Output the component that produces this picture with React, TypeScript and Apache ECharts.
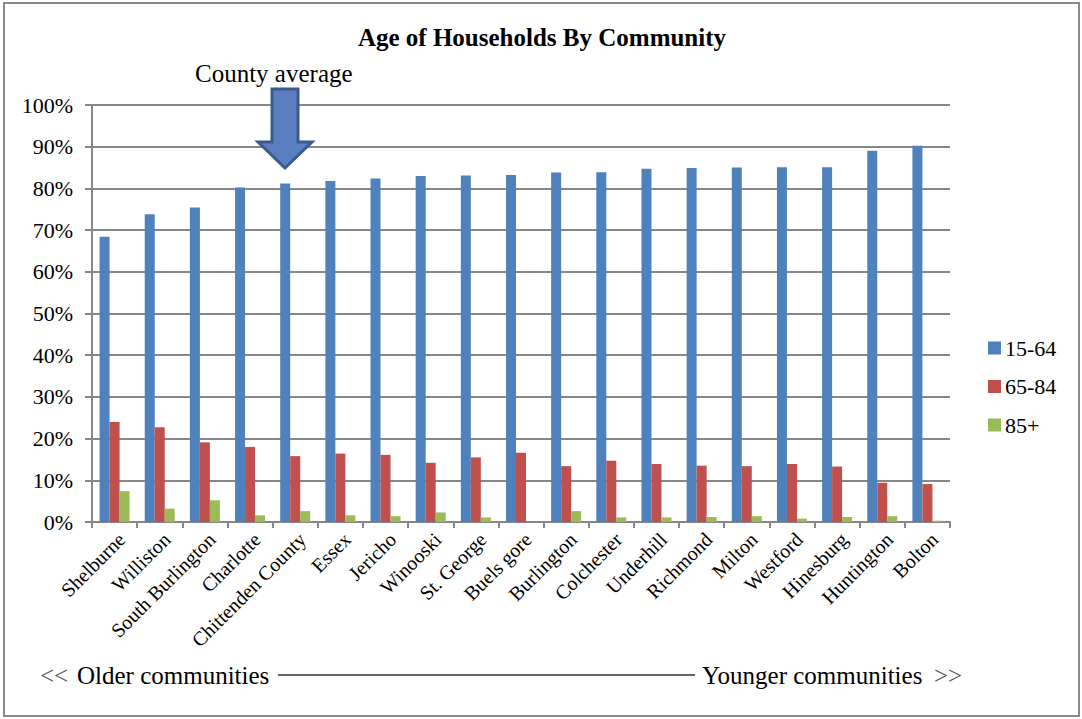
import React, { useEffect, useRef } from "react";
import * as echarts from "echarts";

const communities = [
  "Shelburne", "Williston", "South Burlington", "Charlotte", "Chittenden County",
  "Essex", "Jericho", "Winooski", "St. George", "Buels gore", "Burlington",
  "Colchester", "Underhill", "Richmond", "Milton", "Westford", "Hinesburg",
  "Huntington", "Bolton",
];
const age15to64 = [68.4, 73.8, 75.4, 80.2, 81.2, 81.8, 82.4, 83.0, 83.1, 83.2, 83.8, 83.9, 84.7, 84.9, 85.0, 85.1, 85.1, 89.0, 90.2];
const age65to84 = [24.0, 22.7, 19.1, 18.0, 15.8, 16.4, 16.1, 14.2, 15.5, 16.6, 13.4, 14.7, 13.9, 13.5, 13.4, 13.9, 13.3, 9.4, 9.1];
const age85plus = [7.4, 3.2, 5.2, 1.6, 2.6, 1.6, 1.4, 2.3, 1.1, 0.0, 2.6, 1.1, 1.1, 1.2, 1.4, 0.8, 1.2, 1.4, 0.3];
const seriesNames = ["15-64", "65-84", "85+"];
const colors = ["#4f81bd", "#c0504d", "#9bbb59"];
const yTickValues = [0, 10, 20, 30, 40, 50, 60, 70, 80, 90, 100];

const FONT = "Liberation Serif";

export default function App() {
  const ref = useRef<HTMLDivElement>(null);
  useEffect(() => {
    if (!ref.current) return;
    const chart = echarts.init(ref.current, undefined, { renderer: "svg" });
    const values = [age15to64, age65to84, age85plus];
    chart.setOption({
      animation: false,
      backgroundColor: "#ffffff",
      textStyle: { fontFamily: FONT },
      grid: { left: 92, right: 132, top: 105, bottom: 197, containLabel: false },
      legend: { show: false, data: seriesNames },
      xAxis: {
        type: "category",
        data: communities,
        axisLine: { lineStyle: { color: "#878787", width: 2 } },
        axisTick: { show: true, length: 6, lineStyle: { color: "#878787", width: 2 } },
        axisLabel: {
          interval: 0,
          rotate: 45,
          margin: 7,
          verticalAlign: "top",
          fontFamily: FONT,
          fontSize: 20,
          color: "#000",
        },
      },
      yAxis: {
        type: "value",
        min: 0,
        max: 100,
        interval: 10,
        axisLine: { show: true, lineStyle: { color: "#878787", width: 2 } },
        axisTick: { show: true, length: 7, lineStyle: { color: "#878787", width: 2 } },
        splitLine: { lineStyle: { color: "#878787", width: 2 } },
        axisLabel: { show: false },
      },
      series: seriesNames.map((name, i) => ({
        name,
        type: "bar",
        data: values[i],
        barWidth: 10,
        barGap: "0%",
        itemStyle: { color: colors[i] },
      })),
    });

    const yLabels = yTickValues.map((v) => ({
      type: "text",
      x: 73,
      y: chart.convertToPixel({ yAxisIndex: 0 }, v) as number,
      style: {
        text: v + "%",
        font: `22px ${FONT}`,
        fill: "#000",
        align: "right",
        verticalAlign: "middle",
      },
    }));

    const legendItems: any[] = [];
    seriesNames.forEach((name, i) => {
      const cy = 348 + i * 38.5;
      legendItems.push({
        type: "rect",
        shape: { x: 988, y: cy - 6.5, width: 13, height: 13 },
        style: { fill: colors[i] },
      });
      legendItems.push({
        type: "text",
        x: 1005,
        y: cy,
        style: {
          text: name,
          font: `22px ${FONT}`,
          fill: "#000",
          align: "left",
          verticalAlign: "middle",
        },
      });
    });

    const textEl = (text: string, x: number, y: number, font: string, fill = "#000", align = "left") => ({
      type: "text",
      x,
      y,
      style: { text, font, fill, align, verticalAlign: "middle" },
    });

    chart.setOption({
      graphic: [
        {
          type: "rect",
          shape: { x: 4, y: 3, width: 1075, height: 713 },
          style: { fill: "none", stroke: "#8a8a8a", lineWidth: 2 },
          silent: true,
        },
        textEl("Age of Households By Community", 542, 37, `bold 25px ${FONT}`, "#000", "center"),
        textEl("County average", 195, 73, `25px ${FONT}`),
        {
          type: "polygon",
          shape: {
            points: [
              [272, 89], [298, 89], [298, 142], [312, 142],
              [285, 168], [258, 142], [272, 142],
            ],
          },
          style: { fill: "#5a7ebf", stroke: "#3c5a8c", lineWidth: 3 },
        },
        textEl("<<", 40, 675, `25px ${FONT}`, "#555"),
        textEl("Older communities", 77, 675, `25px ${FONT}`),
        {
          type: "line",
          shape: { x1: 278, y1: 675, x2: 695, y2: 675 },
          style: { stroke: "#333", lineWidth: 1.5 },
        },
        textEl("Younger communities", 702, 675, `25px ${FONT}`),
        textEl(">>", 934, 675, `25px ${FONT}`, "#555"),
        ...yLabels,
        ...legendItems,
      ],
    });
    return () => chart.dispose();
  }, []);
  return (
    <div
      ref={ref}
      style={{ position: "absolute", left: 0, top: 0, width: 1082, height: 719 }}
    />
  );
}
